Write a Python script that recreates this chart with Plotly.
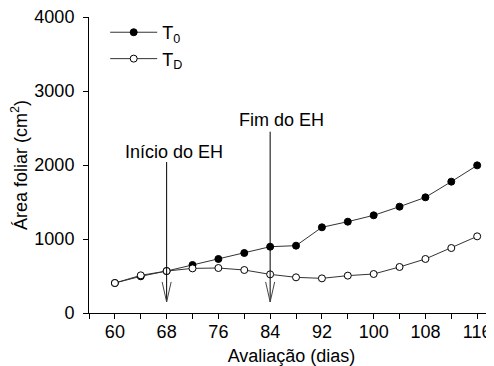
import plotly.graph_objects as go

days = [60, 64, 68, 72, 76, 80, 84, 88, 92, 96, 100, 104, 108, 112, 116]
t0 = [405, 496, 567, 649, 730, 811, 896, 910, 1158, 1234, 1320, 1437, 1563, 1775, 1995]
td = [405, 509, 567, 603, 608, 581, 522, 482, 468, 505, 527, 622, 730, 878, 1036]

x_ticks = [60, 68, 76, 84, 92, 100, 108, 116]
y_ticks = [0, 1000, 2000, 3000, 4000]

arrow_x = [68, 84]
arrow_top = [2040, 2450]
arrow_bottom = 150
arrow_head_top = 420
arrow_head_half = 0.7
arrow_labels = ["Início do EH", "Fim do EH"]
label_x = [69.1, 85.7]
label_y = [2176, 2608]

font = "Liberation Sans, Arial, sans-serif"
line_col = "#333333"

fig = go.Figure()
fig.add_trace(go.Scatter(
    x=days, y=t0, mode="lines+markers", name="T<sub>0</sub>", legendgroup="a",
    line=dict(color=line_col, width=1),
    marker=dict(symbol="circle", size=7, color="black", line=dict(color="black", width=1)),
))
fig.add_trace(go.Scatter(
    x=days, y=td, mode="lines+markers", name="T<sub>D</sub>", legendgroup="b",
    line=dict(color=line_col, width=1),
    marker=dict(symbol="circle", size=7, color="white", line=dict(color="black", width=1)),
))

for ax, top in zip(arrow_x, arrow_top):
    fig.add_shape(type="line", x0=ax, x1=ax, y0=arrow_bottom, y1=top,
                  line=dict(color="black", width=1))
    fig.add_shape(type="line", x0=ax - arrow_head_half, x1=ax, y0=arrow_head_top, y1=arrow_bottom,
                  line=dict(color="#444444", width=1))
    fig.add_shape(type="line", x0=ax + arrow_head_half, x1=ax, y0=arrow_head_top, y1=arrow_bottom,
                  line=dict(color="#444444", width=1))

for lx, ly, txt in zip(label_x, label_y, arrow_labels):
    fig.add_annotation(x=lx, y=ly, text=txt, showarrow=False,
                       font=dict(family=font, size=18, color="black"),
                       xanchor="center", yanchor="middle")

# page body has an 8px margin: size/margins compensate so the plot area lands where the reference has it
fig.update_layout(
    width=486, height=358,
    margin=dict(l=81, r=0, t=9, b=53),
    paper_bgcolor="white", plot_bgcolor="white",
    font=dict(family=font, size=18, color="black"),
    showlegend=True,
    legend=dict(x=0.04, y=1.01, xanchor="left", yanchor="top",
                bgcolor="rgba(0,0,0,0)", tracegroupgap=0, traceorder="grouped",
                itemwidth=47, font=dict(family=font, size=18)),
    xaxis=dict(
        range=[56, 118.6], tickvals=x_ticks, ticks="outside", ticklen=5,
        tickcolor="black", showline=True, linecolor="black", linewidth=1,
        showgrid=False, zeroline=False, automargin=False,
        ticklabelstandoff=-3, ticklabeloverflow="allow",
        minor=dict(ticks="outside", ticklen=5, dtick=4, tick0=56, tickcolor="black", showgrid=False),
        title=dict(text="Avaliação (dias)", font=dict(size=18), standoff=9),
        tickfont=dict(size=18),
    ),
    yaxis=dict(
        range=[0, 4000], tickvals=y_ticks, ticks="outside", ticklen=5,
        tickcolor="black", showline=True, linecolor="black", linewidth=1,
        showgrid=False, zeroline=False, automargin=False,
        ticklabelstandoff=5, ticklabeloverflow="allow",
        title=dict(text="Área foliar (cm<sup>2</sup>)", font=dict(size=18), standoff=2),
        tickfont=dict(size=18),
    ),
)

fig.write_html("out.html")
